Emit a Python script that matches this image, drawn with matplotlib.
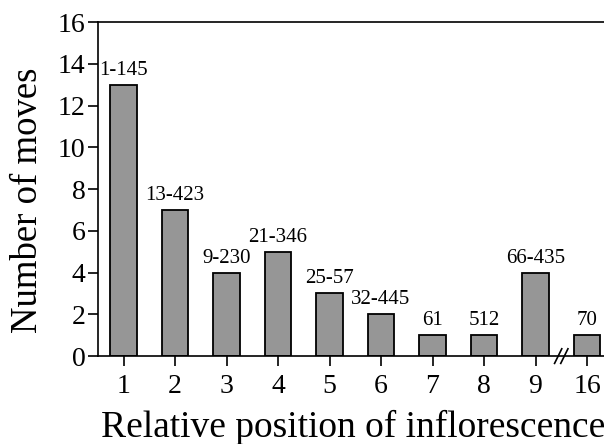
import numpy as np
import matplotlib.pyplot as plt

plt.rcParams['font.family'] = ['Liberation Serif', 'DejaVu Serif']

# Data
positions = ['1', '2', '3', '4', '5', '6', '7', '8', '9', '16']
moves = [13, 7, 4, 5, 3, 2, 1, 1, 4, 1]
bar_labels = ['1-145', '13-423', '9-230', '21-346', '25-57',
              '32-445', '61', '512', '66-435', '70']

x = np.arange(len(positions))

fig = plt.figure(figsize=(6.04, 4.44), dpi=100)
ax = fig.add_axes([0.162, 0.198, 0.861, 0.752])

ax.bar(x, moves, width=0.52, color='#969696', edgecolor='black', linewidth=1.3)
for xi, v, lab in zip(x, moves, bar_labels):
    ax.text(xi, v + 0.48, lab, ha='center', va='baseline', fontsize=15)

ax.set_xlim(-0.5, 9.6)
ax.set_ylim(0, 16)
ax.set_yticks(range(0, 17, 2))
ax.set_xticks(x)
ax.set_xticklabels(positions)
ax.tick_params(axis='both', labelsize=20, width=1.2, length=7, direction='out')
ax.tick_params(axis='x', pad=6)
ax.tick_params(axis='y', pad=2)

for s in ['left', 'bottom', 'top']:
    ax.spines[s].set_linewidth(1.2)
ax.spines['right'].set_visible(False)

# axis break marks between 9 and 16
for dx in (-0.06, 0.06):
    xb = 8.5 + dx
    ax.plot([xb - 0.07, xb + 0.07], [-0.35, 0.35], color='black', lw=1.2,
            clip_on=False)

ax.set_ylabel('Number of moves', fontsize=26.5)
ax.yaxis.set_label_coords(45 / 604, (444 - 200) / 444, transform=fig.transFigure)

ax.set_xlabel('Relative position of inflorescence', fontsize=27)
ax.xaxis.label.set_ha('left')
ax.xaxis.label.set_va('baseline')
ax.xaxis.set_label_coords(101 / 604, 7 / 444, transform=fig.transFigure)

fig.savefig('out.png', dpi=100)
